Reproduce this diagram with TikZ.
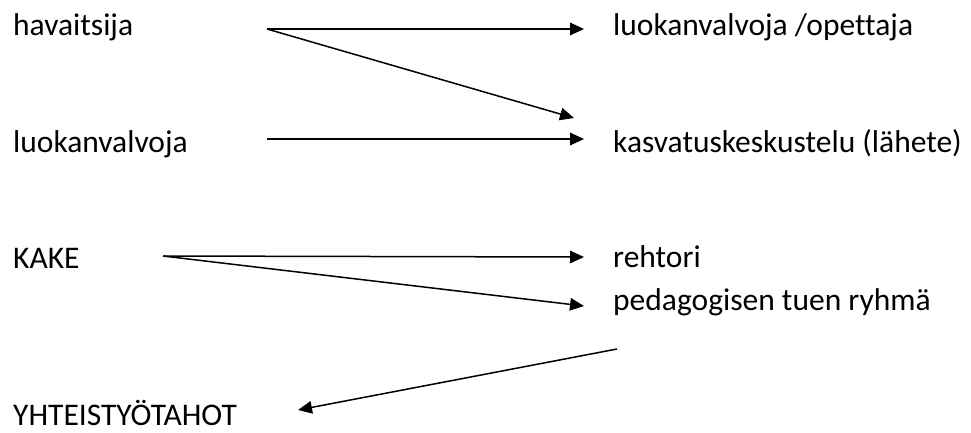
\documentclass[tikz,border=0pt]{standalone}
\usepackage{fontspec}
\setmainfont{Carlito}[Ligatures=NoCommon]
\usepackage{tikz}
\usetikzlibrary{arrows.meta}
\colorlet{itemText}{black}
\colorlet{linkLine}{black}

\begin{document}
\begin{tikzpicture}[
  x=1pt,
  y=-1pt,
  every item/.style={
    anchor=base west,
    inner sep=0pt,
    text=itemText,
    font=\fontsize{31.5}{38}\selectfont,
  },
  every link/.style={
    draw=linkLine,
    line width=1.5pt,
    -{Triangle[length=14pt,width=12.5pt]},
  }
]
\useasboundingbox (0,0) rectangle (971,432);
% left column
\node[every item] (havaitsija) at (13,35) {havaitsija};
\node[every item] (luokanvalvoja) at (13,152) {luokanvalvoja};
\node[every item] (kake) at (13,268) {KAKE};
\node[every item] (yhteistyo) at (13,425) {YHTEISTYÖTAHOT};
% right column
\node[every item] (opettaja) at (613,35) {luokanvalvoja /opettaja};
\node[every item] (kasvatus) at (613,152) {kasvatuskeskustelu (lähete)};
\node[every item] (rehtori) at (613,267) {rehtori};
\node[every item] (pedagogi) at (613,310) {pedagogisen tuen ryhmä};
% line ends
\coordinate (havaitsija-out) at (267,29);
\coordinate (luokanvalvoja-out) at (267,139);
\coordinate (kake-out) at (163,256);
\coordinate (pedagogi-out) at (617,349);
\coordinate (opettaja-in) at (584,29);
\coordinate (kasvatus-in) at (584,139);
\coordinate (kasvatustop-in) at (574,118);
\coordinate (rehtori-in) at (584,257);
\coordinate (pedagogi-in) at (584,306);
\coordinate (yhteistyo-in) at (298,410);
\foreach \a/\b in {havaitsija/opettaja,havaitsija/kasvatustop,luokanvalvoja/kasvatus,
                   kake/rehtori,kake/pedagogi,pedagogi/yhteistyo}
  \draw[every link] (\a-out) -- (\b-in);
\end{tikzpicture}
\end{document}
